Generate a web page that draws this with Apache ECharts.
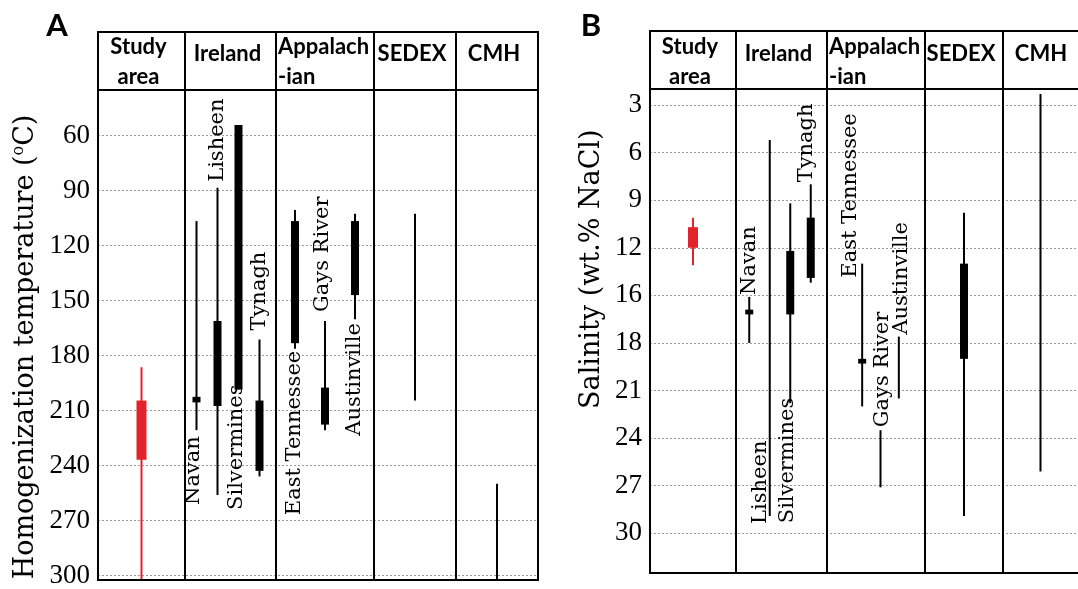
<!DOCTYPE html>
<html>
<head>
<meta charset="utf-8">
<script src="https://cdn.jsdelivr.net/npm/echarts@6/dist/echarts.min.js"></script>
<style>
html, body { margin: 0; padding: 0; background: #fff; }
#chart { width: 1078px; height: 589px; }
</style>
</head>
<body>
<div id="chart"></div>
<script>
// table columns and the deposits inside them
const groups = ['Study\narea', 'Ireland', 'Appalach\n-ian', 'SEDEX', 'CMH']
const groupSizes = [1, 4, 3, 1, 1]
const deposits = ['Study area', 'Navan', 'Lisheen', 'Silvermines', 'Tynagh',
  'East Tennessee', 'Gays River', 'Austinville', 'SEDEX', 'CMH']
const named = [false, true, true, true, true, true, true, true, false, false]

// A: homogenization temperature (°C) - full range and common range
const tempMin  = [185, 106, 88, 54, 170, 100, 160, 102, 102, 248]
const tempLow  = [203, 201, 160, 54, 203, 106, 196, 106, null, null]
const tempHigh = [235, 204, 206, 197, 241, 172, 216, 146, null, null]
const tempMax  = [300, 219, 254, 197, 244, 175, 219, 159, 203, 300]
const tempTicks = ['60', '90', '120', '150', '180', '210', '240', '270', '300']

// B: salinity (wt.% NaCl), in axis steps (the "16" label sits on the 15 step)
const salMin  = [10.1, 15.1, 5.2, 9.2, 8.0, 13.0, 23.5, 17.6, 9.8, 2.3]
const salLow  = [10.7, 15.9, null, 12.2, 10.1, 19.0, null, null, 13.0, null]
const salHigh = [12.0, 16.2, null, 16.2, 13.9, 19.3, null, null, 19.0, null]
const salMax  = [13.1, 18.0, 28.9, 21.8, 14.2, 22.0, 27.1, 21.5, 28.9, 26.1]
const salTicks = ['3', '6', '9', '12', '16', '18', '21', '24', '27', '30']

const RED = '#e3232b'
const SERIF = '"DejaVu Serif", serif'
const TICK_FONT = '"Liberation Serif", serif'
const HEAD_FONT = 'bold 22px Lato, "Open Sans", sans-serif'

// label placement: [range end, text direction, gap px, dx px]
const labelsA = [null, ['max', 'down', 6, -3], ['min', 'up', 6, 0], ['max', 'down', -5, -2], ['min', 'up', 9, 0],
  ['max', 'down', 2, 0], ['min', 'up', 9, -2], ['max', 'down', 4, 0], null, null]
const labelsB = [null, ['min', 'up', 2, 0], ['max', 'up', -8, -9], ['max', 'up', -120, -3], ['min', 'up', 2, -4],
  ['min', 'up', -14, -12], ['min', 'up', 3, 2], ['min', 'up', 2, 3], null, null]

const panels = [
  {
    letter: 'A', letterX: 57,
    edges: [98, 185, 276, 374, 456, 538], insets: [[0, 0], [1, 6], [4, 4], [0, 0], [0, 0]],
    top: 32, headBottom: 90, bottom: 580, gridTop: 80.5,
    min: 30, max: 300, interval: 30,
    lo: tempMin, q1: tempLow, q3: tempHigh, hi: tempMax, labels: labelsA,
    name: 'Homogenization temperature ({sup|o}C)', nameGap: 58, nameSize: 27, namePad: [0, 38, 0, 0],
    fmt: v => (v >= 60 && v <= 300 && v % 30 === 0) ? tempTicks[v / 30 - 2] : ''
  },
  {
    letter: 'B', letterX: 591,
    edges: [650, 736, 827, 925, 1003, 1085], insets: [[0, 0], [3, 6], [26, 17], [0, 0], [0, 0]],
    top: 31, headBottom: 89, bottom: 573, gridTop: 57.4,
    min: 0, max: 32.5, interval: 3,
    lo: salMin, q1: salLow, q3: salHigh, hi: salMax, labels: labelsB,
    name: 'Salinity (wt.% NaCl)', nameGap: 45, nameSize: 27, namePad: [0, 0, 0, 92],
    fmt: v => {
      const i = Math.round(v / 3) - 1
      return (Math.abs(v - Math.round(v)) < 1e-6 && Math.round(v) % 3 === 0 && i >= 0 && i < salTicks.length) ? salTicks[i] : ''
    }
  }
]

function makeRender(p, offset) {
  return (params, api) => {
    const i = offset + params.dataIndex
    const cat = api.value(0)
    const x = api.coord([cat, p.min])[0]
    const y = v => api.coord([cat, v])[1]
    const color = i === 0 ? RED : '#000'
    const w = i === 0 ? 10 : 8
    const children = [{
      type: 'line',
      shape: { x1: x, y1: y(p.lo[i]), x2: x, y2: y(p.hi[i]) },
      style: { stroke: color, lineWidth: 2 }
    }]
    if (p.q1[i] != null) {
      children.push({
        type: 'rect',
        shape: { x: x - w / 2, y: y(p.q1[i]), width: w, height: y(p.q3[i]) - y(p.q1[i]) },
        style: { fill: color }
      })
    }
    const lab = p.labels[i]
    if (named[i] && lab) {
      const [end, dir, gap, dx] = lab
      const base = end === 'min' ? y(p.lo[i]) : y(p.hi[i])
      children.push({
        type: 'text',
        x: x + dx,
        y: dir === 'up' ? base - gap : base + gap,
        rotation: Math.PI / 2,
        style: {
          text: deposits[i], fill: '#000', font: '21px ' + SERIF,
          align: dir === 'up' ? 'left' : 'right', verticalAlign: 'middle'
        }
      })
    }
    return { type: 'group', children }
  }
}

const grid = [], xAxis = [], yAxis = [], series = [], graphic = []

panels.forEach(p => {
  const height = p.bottom - p.gridTop
  const left = p.edges[0], width = p.edges[p.edges.length - 1] - left
  // frame grid carrying the visible y axis and dotted grid lines
  const gi = grid.length
  grid.push({ left, top: p.gridTop, width, height })
  xAxis.push({ gridIndex: gi, type: 'value', min: 0, max: 1, show: false })
  yAxis.push({
    gridIndex: gi, type: 'value', inverse: true, min: p.min, max: p.max, interval: p.interval,
    axisLine: { show: false }, axisTick: { show: false },
    axisLabel: {
      formatter: p.fmt, margin: 8, color: '#000', fontFamily: TICK_FONT, fontSize: 27,
      showMinLabel: false
    },
    splitLine: { lineStyle: { color: '#9a9a9a', type: [2, 2], width: 1 } },
    name: p.name, nameLocation: 'middle', nameGap: p.nameGap,
    nameTextStyle: {
      color: '#000', fontFamily: SERIF, fontSize: p.nameSize, padding: p.namePad,
      rich: { sup: { fontFamily: SERIF, fontSize: 16, color: '#000', padding: [0, 0, 13, 0] } }
    }
  })
  // one invisible grid per column for the markers
  let offset = 0
  groupSizes.forEach((n, c) => {
    const g = grid.length
    const gl = p.edges[c] + p.insets[c][0]
    const gr = p.edges[c + 1] - p.insets[c][1]
    grid.push({ left: gl, top: p.gridTop, width: gr - gl, height })
    const names = deposits.slice(offset, offset + n)
    xAxis.push({ gridIndex: g, type: 'category', data: names, show: false })
    yAxis.push({ gridIndex: g, type: 'value', inverse: true, min: p.min, max: p.max, show: false })
    series.push({
      type: 'custom', xAxisIndex: g, yAxisIndex: g, z: 5,
      renderItem: makeRender(p, offset),
      data: names.map((_, k) => [k, p.lo[offset + k], p.q1[offset + k], p.q3[offset + k], p.hi[offset + k]])
    })
    offset += n
  })

  // table: header cells, column borders, header texts
  graphic.push({
    type: 'rect', z: 50,
    shape: { x: left, y: p.top, width, height: p.headBottom - p.top },
    style: { fill: '#fff', stroke: '#000', lineWidth: 2 }
  })
  p.edges.slice(0, -1).forEach((e, c) => {
    graphic.push({
      type: 'rect', z: 51,
      shape: { x: e, y: p.top, width: p.edges[c + 1] - e, height: p.bottom - p.top },
      style: { fill: 'none', stroke: '#000', lineWidth: 2 }
    })
    const two = groups[c].includes('\n')
    const leftAlign = groups[c].startsWith('Appalach')
    graphic.push({
      type: 'text', z: 52,
      x: leftAlign ? e + 2 : (e + p.edges[c + 1]) / 2 - 3,
      y: two ? 61.5 : 54,
      style: {
        text: groups[c], font: HEAD_FONT, fill: '#000', lineHeight: 30,
        align: leftAlign ? 'left' : 'center', verticalAlign: 'middle'
      }
    })
  })
  graphic.push({
    type: 'text', z: 52, x: p.letterX, y: 26,
    style: {
      text: p.letter, font: 'bold 31px Lato, "Open Sans", sans-serif', fill: '#000',
      align: 'center', verticalAlign: 'middle'
    }
  })
})

const chart = echarts.init(document.getElementById('chart'), null, { renderer: 'canvas' })
chart.setOption({
  animation: false,
  backgroundColor: '#fff',
  grid, xAxis, yAxis, series, graphic
})
</script>
</body>
</html>
